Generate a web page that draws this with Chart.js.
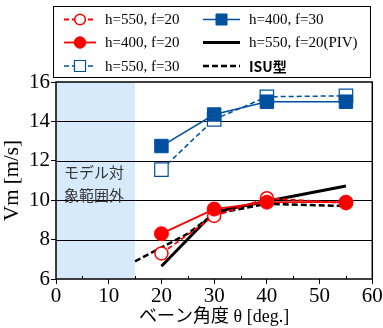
<!DOCTYPE html>
<html>
<head>
<meta charset="utf-8">
<script src="https://cdn.jsdelivr.net/npm/chart.js@4"></script>
<style>
  html, body { margin: 0; padding: 0; background: #fff; }
  #wrap { width: 383px; height: 328px; }
</style>
</head>
<body>
<div id="wrap"><canvas id="myChart" width="383" height="328"></canvas></div>
<script>
// angles [deg.]
const angles = [20, 30, 40, 55];
const h550f20 = [7.3, 9.2, 10.1, 9.85];
const h400f20 = [8.3, 9.55, 9.9, 9.9];
const h550f30 = [11.55, 14.1, 15.25, 15.3];
const h400f30 = [12.75, 14.35, 15.0, 15.0];
const pivAngles = [20, 30, 40, 55];
const pivVals = [6.65, 9.4, 9.95, 10.72];
const isuAngles = [15, 25, 30, 40, 55];
const isuVals = [6.9, 8.3, 9.3, 9.82, 9.7];
const xTicks = [0, 10, 20, 30, 40, 50, 60];
const yTicks = [6, 8, 10, 12, 14, 16];
const shadeRange = [0, 15];

const RED = 'rgb(255, 0, 0)';
const BLUE = 'rgb(0, 80, 160)';
const SERIF = '"Liberation Serif", "Noto Sans CJK JP", serif';

function pts(xs, ys) {
   return xs.map((x, i) => ({ x: x, y: ys[i] }));
}

// first dataset is drawn on top
const datasets = [
   { label: 'h=400, f=20', data: pts(angles, h400f20), borderColor: RED, borderWidth: 1.8,
     pointStyle: 'circle', pointRadius: 7, backgroundColor: RED, pointBorderColor: RED, pointBorderWidth: 1 },
   { label: 'h=550, f=20', data: pts(angles, h550f20), borderColor: RED, borderWidth: 1.8, borderDash: [5, 3],
     pointStyle: 'circle', pointRadius: 6.5, backgroundColor: '#fff', pointBorderColor: RED, pointBorderWidth: 1.5 },
   { label: 'h=550, f=20(PIV)', data: pts(pivAngles, pivVals), borderColor: '#000', borderWidth: 3,
     pointRadius: 0 },
   { label: 'ISU型', data: pts(isuAngles, isuVals), borderColor: '#000', borderWidth: 2.5, borderDash: [6, 3],
     pointRadius: 0 },
   { label: 'h=400, f=30', data: pts(angles, h400f30), borderColor: BLUE, borderWidth: 1.5,
     pointStyle: 'rect', pointRadius: 9.5, backgroundColor: BLUE, pointBorderColor: BLUE, pointBorderWidth: 1 },
   { label: 'h=550, f=30', data: pts(angles, h550f30), borderColor: BLUE, borderWidth: 1.5, borderDash: [5, 3],
     pointStyle: 'rect', pointRadius: 9.5, backgroundColor: '#fff', pointBorderColor: BLUE, pointBorderWidth: 1.2 },
];

// legend order: [label, column, row]
const legendOrder = [
   ['h=550, f=20', 0, 0], ['h=400, f=20', 0, 1], ['h=550, f=30', 0, 2],
   ['h=400, f=30', 1, 0], ['h=550, f=20(PIV)', 1, 1], ['ISU型', 1, 2],
];

const shadePlugin = {
   id: 'shade',
   beforeDatasetsDraw(chart) {
      const { ctx, chartArea, scales } = chart;
      const x0 = scales.x.getPixelForValue(shadeRange[0]);
      const x1 = scales.x.getPixelForValue(shadeRange[1]);
      ctx.save();
      ctx.fillStyle = 'rgb(214, 234, 252)';
      ctx.fillRect(x0, chartArea.top, x1 - x0, chartArea.bottom - chartArea.top);
      // horizontal grid lines over the shade
      ctx.strokeStyle = '#000';
      ctx.lineWidth = 1;
      [8, 10, 12, 14].forEach(v => {
         const y = Math.round(scales.y.getPixelForValue(v)) + 0.5;
         ctx.beginPath();
         ctx.moveTo(chartArea.left, y);
         ctx.lineTo(chartArea.right, y);
         ctx.stroke();
      });
      // minor ticks inside at bottom
      for (let v = 5; v < 60; v += 10) {
         const x = Math.round(scales.x.getPixelForValue(v)) + 0.5;
         ctx.beginPath();
         ctx.moveTo(x, chartArea.bottom);
         ctx.lineTo(x, chartArea.bottom - 3);
         ctx.stroke();
      }
      ctx.fillStyle = '#333';
      ctx.font = '15px "Noto Sans CJK JP"';
      ctx.textAlign = 'left';
      ctx.textBaseline = 'middle';
      ctx.fillText('モデル対', 64, 172);
      ctx.fillText('象範囲外', 64, 195);
      ctx.restore();
   },
   afterDraw(chart) {
      const { ctx, chartArea } = chart;
      ctx.save();
      ctx.strokeStyle = '#000';
      ctx.lineWidth = 1.5;
      ctx.strokeRect(chartArea.left, chartArea.top, chartArea.right - chartArea.left, chartArea.bottom - chartArea.top);

      // legend box
      ctx.lineWidth = 1;
      ctx.fillStyle = '#fff';
      ctx.fillRect(53.5, 6.5, 317, 71);
      ctx.strokeRect(53.5, 6.5, 317, 71);
      const colX = [64, 203];
      const colW = [32, 37];
      const rowY = [19.5, 42.5, 66];
      legendOrder.forEach(([label, c, r]) => {
         const ds = datasets.find(d => d.label === label);
         const x0 = colX[c], x1 = colX[c] + colW[c], y = rowY[r];
         ctx.save();
         ctx.strokeStyle = ds.borderColor;
         ctx.lineWidth = ds.borderWidth;
         ctx.setLineDash(ds.borderDash || []);
         ctx.beginPath();
         ctx.moveTo(x0, y);
         ctx.lineTo(x1, y);
         ctx.stroke();
         ctx.setLineDash([]);
         if (ds.pointRadius > 0) {
            ctx.fillStyle = ds.backgroundColor;
            ctx.strokeStyle = ds.pointBorderColor;
            ctx.lineWidth = ds.pointBorderWidth;
            Chart.helpers.drawPoint(ctx, {
               pointStyle: ds.pointStyle, rotation: 0, radius: ds.pointRadius * 0.82, borderWidth: ds.pointBorderWidth
            }, (x0 + x1) / 2, y);
         }
         ctx.restore();
         ctx.fillStyle = '#000';
         ctx.textBaseline = 'middle';
         ctx.textAlign = 'left';
         if (label === 'ISU型') {
            ctx.font = 'bold 14px "Noto Sans CJK JP"';
         } else {
            ctx.font = '15px ' + SERIF;
         }
         ctx.fillText(label, x1 + 9, y + 1);
      });
      ctx.restore();
   }
};

var ctx = document.getElementById('myChart');
var myChart = new Chart(ctx, {
   type: 'line',
   data: { datasets: datasets },
   options: {
      responsive: false,
      animation: false,
      layout: { padding: { top: 82, right: 10, left: 0, bottom: 0 } },
      plugins: {
         legend: { display: false },
         tooltip: { enabled: false },
      },
      scales: {
         x: {
            type: 'linear',
            min: 0,
            max: 60,
            afterBuildTicks: (s) => { s.ticks = xTicks.map(v => ({ value: v })); },
            afterFit: (s) => { s.height = 49; s.paddingLeft = 0; s.paddingRight = 0; },
            ticks: { font: { size: 21, family: SERIF }, color: '#000', padding: 0, maxRotation: 0 },
            grid: { drawOnChartArea: false, tickLength: 5, color: '#000' },
            border: { display: false },
            title: { display: true, text: 'ベーン角度 θ [deg.]', font: { size: 18, family: SERIF }, color: '#000', padding: { top: 0, bottom: 0 } },
         },
         y: {
            min: 6,
            max: 16,
            afterBuildTicks: (s) => { s.ticks = yTicks.map(v => ({ value: v })); },
            afterFit: (s) => { s.width = 56; },
            ticks: { font: { size: 21, family: SERIF }, color: '#000', padding: 1 },
            grid: { drawOnChartArea: false, tickLength: 5, color: '#000' },
            border: { display: false },
            title: { display: true, text: 'Vm [m/s]', font: { size: 21, family: SERIF }, color: '#000', padding: { top: 0, bottom: 0 } },
         },
      },
   },
   plugins: [shadePlugin],
});
</script>
</body>
</html>
